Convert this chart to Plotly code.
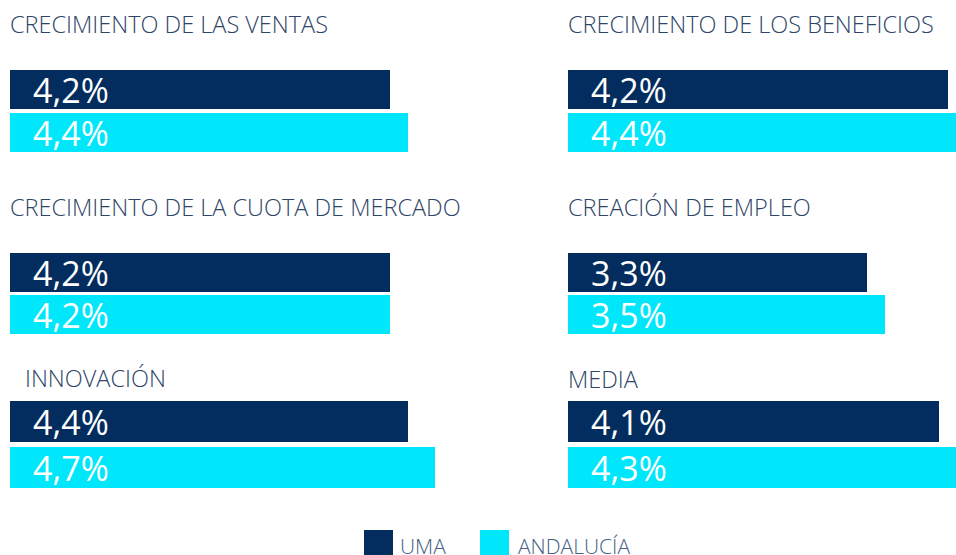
"""Barras horizontales UMA vs Andalucía por indicador (seis paneles)."""
import plotly.graph_objects as go

# --------------------------------------------------------------------------- #
# Datos
# --------------------------------------------------------------------------- #
categorias = [
    "CRECIMIENTO DE LAS VENTAS",
    "CRECIMIENTO DE LOS BENEFICIOS",
    "CRECIMIENTO DE LA CUOTA DE MERCADO",
    "CREACIÓN DE EMPLEO",
    "INNOVACIÓN",
    "MEDIA",
]
series = ["UMA", "ANDALUCÍA"]
uma = [4.2, 4.2, 4.2, 3.3, 4.4, 4.1]
andalucia = [4.4, 4.4, 4.2, 3.5, 4.7, 4.3]

COLOR_UMA = "#022d5e"
COLOR_AND = "#00e6fb"
COLOR_TXT = "#2e4568"
FUENTE = "Open Sans"

W, H = 956, 555
PX_UNIDAD = 90.5  # píxeles por punto porcentual

# geometría de columnas / filas en píxeles de pantalla
col_x0 = [10, 568]
col_x1 = [500, 956]
fila_centro = [(89.3, 132.3), (272.3, 314.3), (421.3, 467.3)]
fila_alto = [39, 39, 41]
titulo_x = [10, 568, 10, 568, 25, 568]
titulo_y = [24.5, 24.5, 207, 207, 378, 379]


def fmt(v):
    return f"{v:.1f}".replace(".", ",") + "%"


fig = go.Figure()
layout = {}
anotaciones = []

for i, cat in enumerate(categorias):
    fila, col = divmod(i, 2)
    n = "" if i == 0 else str(i + 1)
    xa, ya = f"x{n}", f"y{n}"
    c1, c2 = fila_centro[fila]
    paso = c2 - c1
    top, bot = c1 - paso / 2, c2 + paso / 2
    ancho = fila_alto[fila] / paso

    for nombre, valores, color in ((series[0], uma, COLOR_UMA),
                                   (series[1], andalucia, COLOR_AND)):
        fig.add_trace(go.Bar(
            x=[valores[i]], y=[nombre], orientation="h",
            marker=dict(color=color, line=dict(width=0)),
            width=ancho, xaxis=xa, yaxis=ya, showlegend=False,
            hoverinfo="skip",
        ))
        anotaciones.append(dict(
            x=0, y=nombre, xref=xa, yref=ya, text=fmt(valores[i]),
            xanchor="left", yanchor="middle", xshift=21, yshift=-1,
            showarrow=False,
            font=dict(family=FUENTE, size=34, color="white"),
        ))

    x0, x1 = col_x0[col], col_x1[col]
    layout[f"xaxis{n}"] = dict(
        domain=[x0 / W, x1 / W], range=[0, (x1 - x0) / PX_UNIDAD],
        visible=False, fixedrange=True,
    )
    layout[f"yaxis{n}"] = dict(
        domain=[1 - bot / H, 1 - top / H], range=[1.5, -0.5],
        type="category", categoryorder="array", categoryarray=series,
        visible=False, fixedrange=True,
    )
    anotaciones.append(dict(
        x=titulo_x[i] / W, y=1 - titulo_y[i] / H,
        xref="paper", yref="paper", xshift=-2,
        text=cat, xanchor="left", yanchor="middle", showarrow=False,
        font=dict(family=FUENTE, size=23.5, color=COLOR_TXT, weight=300),
    ))

# Leyenda a medida (cuadros grandes)
fig.add_trace(go.Scatter(
    x=series, y=[0, 0], mode="markers", xaxis="x7", yaxis="y7",
    marker=dict(symbol="square", size=29, color=[COLOR_UMA, COLOR_AND]),
    showlegend=False, hoverinfo="skip", cliponaxis=False,
))
for nombre, dx in zip(series, [19, 21]):
    anotaciones.append(dict(
        x=nombre, y=0, xref="x7", yref="y7", text=nombre,
        xanchor="left", yanchor="middle", xshift=dx, yshift=-1,
        showarrow=False,
        font=dict(family=FUENTE, size=21, color="#465f82", weight=300),
    ))
layout["xaxis7"] = dict(domain=[320.5 / W, 552.5 / W],
                        range=[-0.5, 1.5], type="category",
                        visible=False, fixedrange=True)
# franja inferior de 25 px; el centro de los cuadros queda a 10.5 px del borde
layout["yaxis7"] = dict(domain=[0, 1 - 530 / H],
                        range=[-10.5, 14.5], visible=False, fixedrange=True)

fig.update_layout(
    **layout,
    annotations=anotaciones,
    width=W, height=H,
    margin=dict(l=0, r=0, t=0, b=0),
    paper_bgcolor="white", plot_bgcolor="white",
    barmode="overlay", bargap=0,
)

# la página sin margen: el gráfico ocupa toda la ventana
fig.write_html(
    "out.html",
    config={"displayModeBar": False},
    post_script="document.body.style.margin='0';"
                "document.body.style.overflow='hidden';",
)
